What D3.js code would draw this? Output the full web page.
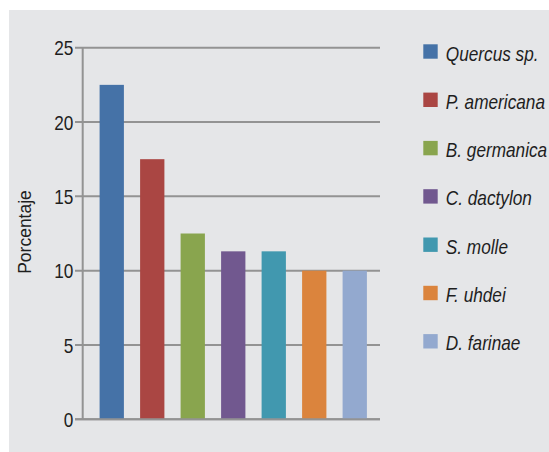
<!DOCTYPE html>
<html>
<head>
<meta charset="utf-8">
<script src="https://cdn.jsdelivr.net/npm/d3@7"></script>
<style>
  html, body { margin: 0; padding: 0; background: #ffffff; }
  svg { display: block; }
</style>
</head>
<body>
<svg id="chart" width="549" height="452"></svg>
<script>
// Species and their share (%)
const species = ["Quercus sp.", "P. americana", "B. germanica", "C. dactylon", "S. molle", "F. uhdei", "D. farinae"];
const percentages = [22.5, 17.5, 12.5, 11.3, 11.3, 10, 10];
const barColors = ["#4572a7", "#aa4643", "#89a54e", "#71588f", "#4198af", "#db843d", "#93a9cf"];
const yTicks = [0, 5, 10, 15, 20, 25];
const yTitle = "Porcentaje";

// condensed look: regular sans squeezed horizontally
const sans = "'Liberation Sans', Arial, sans-serif";
const squeeze = 0.82;
const svg = d3.select("#chart");

// panel background
svg.append("rect")
  .attr("x", 9).attr("y", 10)
  .attr("width", 540).attr("height", 442)
  .attr("fill", "#e5e6e8");

const y = d3.scaleLinear().domain([0, 25]).range([419.3, 47.7]);
const x = d3.scaleBand().domain(species).range([91.5, 375])
  .paddingInner(0.4).paddingOuter(0.2);

const axisX = 82.7, gridLeft = 75, gridRight = 380;

// horizontal gridlines (with tick stubs left of the axis)
svg.append("g").selectAll("line").data(yTicks).join("line")
  .attr("x1", gridLeft).attr("x2", gridRight)
  .attr("y1", d => y(d)).attr("y2", d => y(d))
  .attr("stroke", "#939393").attr("stroke-width", 2);

// bars
svg.append("g").selectAll("rect").data(species).join("rect")
  .attr("x", d => x(d))
  .attr("width", x.bandwidth())
  .attr("y", (d, i) => y(percentages[i]))
  .attr("height", (d, i) => y(0) - y(percentages[i]))
  .attr("fill", (d, i) => barColors[i]);

// baseline and vertical axis
svg.append("line")
  .attr("x1", gridLeft).attr("x2", gridRight)
  .attr("y1", y(0)).attr("y2", y(0))
  .attr("stroke", "#939393").attr("stroke-width", 2);
svg.append("line")
  .attr("x1", axisX).attr("x2", axisX)
  .attr("y1", y(25)).attr("y2", y(0))
  .attr("stroke", "#939393").attr("stroke-width", 2);

// tick labels
svg.append("g").selectAll("text").data(yTicks).join("text")
  .attr("transform", d => `translate(73.3,${y(d)}) scale(${squeeze},1)`)
  .attr("dy", "0.36em")
  .attr("text-anchor", "end")
  .attr("font-family", sans)
  .attr("font-size", 21)
  .attr("fill", "#1e1e1e")
  .text(d => d);

// y title
svg.append("text")
  .attr("transform", "translate(31.3,232) rotate(-90)")
  .attr("text-anchor", "middle")
  .attr("font-family", sans)
  .attr("font-size", 17.5)
  .attr("fill", "#1e1e1e")
  .text(yTitle);

// legend
const legend = svg.append("g").selectAll("g").data(species).join("g")
  .attr("transform", (d, i) => `translate(423.3,${51.5 + i * 48.3})`);
legend.append("rect")
  .attr("x", 0).attr("y", -7.2)
  .attr("width", 14.4).attr("height", 14.4)
  .attr("fill", (d, i) => barColors[i]);
legend.append("text")
  .attr("transform", `translate(22.5,9) scale(${squeeze},1)`)
  .attr("font-family", sans)
  .attr("font-style", "italic")
  .attr("font-size", 21)
  .attr("fill", "#1e1e1e")
  .text(d => d);
</script>
</body>
</html>
